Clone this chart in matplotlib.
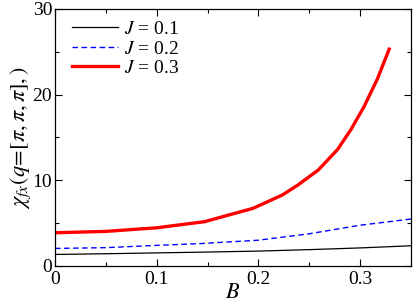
import numpy as np
import matplotlib
matplotlib.use("Agg")
import matplotlib.pyplot as plt
from matplotlib.ticker import MultipleLocator

plt.rcParams['font.family'] = 'serif'
plt.rcParams['font.serif'] = ['Liberation Serif', 'DejaVu Serif']
plt.rcParams['mathtext.fontset'] = 'stix'

# values
B_j1 = [0, 0.05, 0.1, 0.142, 0.2, 0.25, 0.3, 0.35]
chi_j1 = [1.34, 1.42, 1.52, 1.6, 1.73, 1.9, 2.1, 2.35]

B_j2 = [0, 0.05, 0.1, 0.142, 0.2, 0.25, 0.3, 0.35]
chi_j2 = [2.04, 2.13, 2.4, 2.6, 3.0, 3.75, 4.75, 5.47]

B_j3 = [0, 0.05, 0.1, 0.147, 0.195, 0.224, 0.239, 0.259, 0.278, 0.291,
        0.304, 0.317, 0.3287]
chi_j3 = [3.87, 4.03, 4.45, 5.16, 6.73, 8.3, 9.45, 11.2, 13.6, 15.9,
          18.6, 21.8, 25.3]

fig = plt.figure(figsize=(4.15, 3.06), dpi=100)
ax = fig.add_axes([0.1325, 0.131, 0.8575, 0.84])

ax.plot(B_j1, chi_j1, color='black', lw=0.9, label='$J$ = 0.1')
ax.plot(B_j2, chi_j2, color='blue', lw=1.0, ls=(0, (4, 2.5)), label='$J$ = 0.2')
ax.plot(B_j3, chi_j3, color='red', lw=2.4, label='$J$ = 0.3')

ax.set_xlim(0, 0.35)
ax.set_ylim(0, 30)
ax.xaxis.set_minor_locator(MultipleLocator(0.05))
ax.yaxis.set_minor_locator(MultipleLocator(5))
ax.set_xticks([0, 0.1, 0.2, 0.3])
ax.set_xticklabels(['0', '0.1', '0.2', '0.3'], fontsize=14)
ax.set_yticks([0, 10, 20, 30])
ax.set_yticklabels(['0', '10', '20', '30'], fontsize=14)
ax.tick_params(which='both', direction='in', top=True, right=True, width=0.8)
ax.tick_params(which='major', length=5)
ax.tick_params(which='minor', length=3)
ax.tick_params(axis='x', pad=4)
ax.tick_params(axis='y', pad=2)
for s in ax.spines.values():
    s.set_linewidth(0.9)

ax.set_xlabel('$B$', fontsize=16, labelpad=-3)
ax.set_ylabel(r'$\chi_{fx}(q\!=\![\pi,\pi,\pi],)$', fontsize=16, labelpad=0)

ax.legend(loc='upper left', frameon=False, fontsize=14, handlelength=2.4,
          handletextpad=0.3, labelspacing=0.1, borderaxespad=0.0,
          bbox_to_anchor=(0.025, 0.985))

fig.savefig('out.png', dpi=100)
